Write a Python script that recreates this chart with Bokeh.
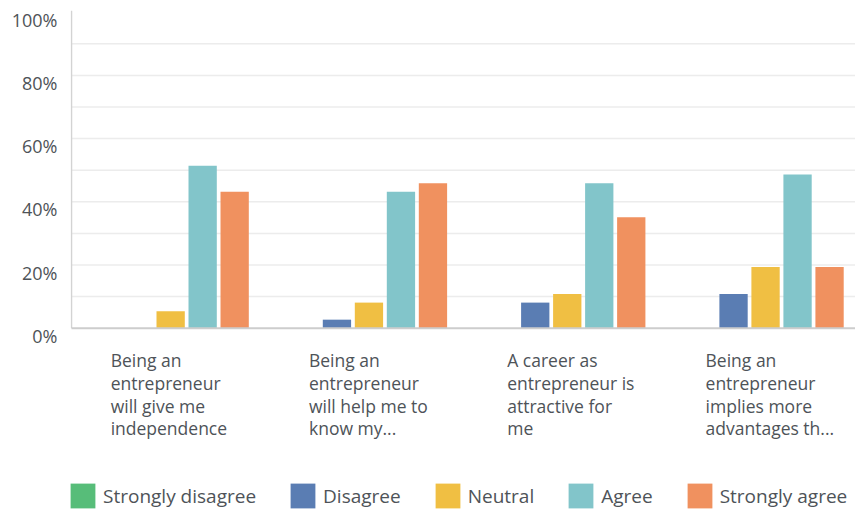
from bokeh.plotting import figure
from bokeh.models import (Range1d, LinearAxis, FixedTicker, Label, Legend,
                          LegendItem, PrintfTickFormatter)
from bokeh.embed import file_html
from bokeh.resources import INLINE

# ---------------- data ----------------
categories = [
    "Being an\nentrepreneur\nwill give me\nindependence",
    "Being an\nentrepreneur\nwill help me to\nknow my...",
    "A career as\nentrepreneur is\nattractive for\nme",
    "Being an\nentrepreneur\nimplies more\nadvantages th...",
]
series_names = ["Strongly disagree", "Disagree", "Neutral", "Agree", "Strongly agree"]
strongly_disagree = [0, 0, 0, 0]
disagree = [0, 2.7, 8.1, 10.8]
neutral = [5.4, 8.1, 10.8, 19.4]
agree = [51.4, 43.2, 45.9, 48.6]
strongly_agree = [43.2, 45.9, 35.1, 19.4]
y_ticks = [0, 20, 40, 60, 80, 100]
grid_ticks = [10, 20, 30, 40, 50, 60, 70, 80, 90]

# ---------------- style ----------------
colors = ["#57bd79", "#5a7db3", "#f0bf43", "#82c5ca", "#f0915f"]
FONT = "Open Sans"
TXT = "#4e5358"
PX_PER_GROUP = 198.3
PX_PER_PCT = 3.16
W, H = 855, 510
LEFT = 70          # frame left (axis line sits 1px inside)
TOP = 10           # frame top
BASE = 327.7       # pixel row of 0%
label_shift = 7.5 / PX_PER_PCT  # tick labels sit below their grid lines

y_end = (BASE - TOP) / PX_PER_PCT
y_start = (BASE - H) / PX_PER_PCT
x_start = -1 / PX_PER_GROUP
x_end = (W - LEFT - 1) / PX_PER_GROUP

series_values = [strongly_disagree, disagree, neutral, agree, strongly_agree]

p = figure(width=W, height=H, output_backend="svg", toolbar_location=None,
           x_range=Range1d(x_start, x_end), y_range=Range1d(y_start, y_end),
           x_axis_location=None, y_axis_location=None,
           min_border_left=LEFT, min_border_right=0, min_border_top=TOP,
           min_border_bottom=0)
p.outline_line_color = None
p.grid.visible = False
p.background_fill_color = "white"
p.border_fill_color = "white"

# horizontal grid lines start at the axis line
for g in grid_ticks:
    p.segment(x0=[0], y0=[g], x1=[x_end], y1=[g], line_color="#ececec",
              line_width=1.5)

p.extra_y_ranges = {"lab": Range1d(y_start + label_shift, y_end + label_shift)}
yax = LinearAxis(y_range_name="lab", ticker=FixedTicker(ticks=y_ticks),
                 formatter=PrintfTickFormatter(format="%d%%"),
                 axis_line_color=None, major_tick_line_color=None,
                 minor_tick_line_color=None, major_tick_out=0, major_tick_in=0,
                 minor_tick_out=0, minor_tick_in=0,
                 major_label_standoff=13,
                 major_label_text_font=FONT, major_label_text_font_size="18px",
                 major_label_text_color=TXT)
p.add_layout(yax, "left")

pitch = 0.1614
bw = 0.1427
renderers = []
for j, (name, vals, col) in enumerate(zip(series_names, series_values, colors)):
    xs = [i + 0.5 + (j - 2) * pitch for i in range(len(categories))]
    r = p.vbar(x=xs, top=vals, bottom=0, width=bw, fill_color=col,
               line_color=None)
    renderers.append(r)

# axis lines
p.segment(x0=[0], y0=[0], x1=[0], y1=[y_end], line_color="#d3d3d3",
          line_width=1.5)
p.segment(x0=[0], y0=[0], x1=[x_end], y1=[0], line_color="#cdcdcd",
          line_width=2)

# category labels (left aligned, starting 60px left of group centre)
for i, c in enumerate(categories):
    p.add_layout(Label(x=i + 0.5 - 60 / PX_PER_GROUP,
                       y=(BASE - 347.5) / PX_PER_PCT, text=c,
                       text_align="left", text_baseline="top",
                       text_font=FONT, text_font_size="17.5px",
                       text_color=TXT, text_line_height=0.95))

# legend: area glyphs are drawn inset by 10%, so a 31px box gives a 25px swatch
legend = Legend(items=[LegendItem(label=n, renderers=[r])
                       for n, r in zip(series_names, renderers)],
                orientation="horizontal", location=(-3, -1.4),
                glyph_width=31, glyph_height=31, label_standoff=5,
                spacing=31, padding=0, margin=0, border_line_color=None,
                background_fill_alpha=0, label_text_font=FONT,
                label_text_font_size="19px", label_text_color=TXT,
                label_height=25)
p.add_layout(legend)

open("out.html", "w").write(file_html(p, INLINE))
